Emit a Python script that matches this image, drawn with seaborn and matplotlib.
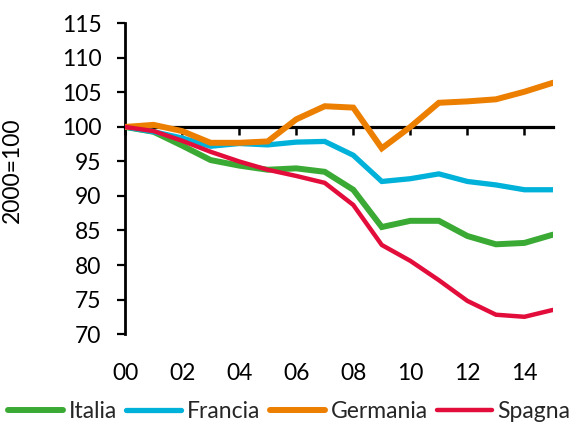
import matplotlib
matplotlib.use("Agg")
import matplotlib.pyplot as plt
import seaborn as sns
import pandas as pd

years = list(range(0, 16))
tick_years = [0, 2, 4, 6, 8, 10, 12, 14]
tick_labels = ["00", "02", "04", "06", "08", "10", "12", "14"]

italia = [100, 99.3, 97.3, 95.2, 94.4, 93.8, 94.0, 93.5, 90.9, 85.5, 86.4, 86.4, 84.2, 83.0, 83.2, 84.4]
francia = [100, 99.3, 98.4, 97.2, 97.6, 97.4, 97.8, 97.9, 95.9, 92.1, 92.5, 93.2, 92.1, 91.6, 90.9, 90.9]
germania = [100, 100.3, 99.4, 97.7, 97.7, 97.9, 101.1, 103.0, 102.8, 96.9, 100.0, 103.5, 103.7, 104.0, 105.1, 106.4]
spagna = [100, 99.4, 98.0, 96.4, 95.0, 93.8, 92.9, 91.9, 88.7, 82.9, 80.6, 77.8, 74.8, 72.8, 72.5, 73.5]

series_names = ["Italia", "Francia", "Germania", "Spagna"]
series_values = [italia, francia, germania, spagna]
colors = ["#3AAA35", "#00B1D9", "#EC7F00", "#E30D3B"]
widths = [4.3, 3.8, 4.3, 3.2]

sns.set_style("white")
plt.rcParams["font.family"] = ["Lato", "DejaVu Sans"]

fig = plt.figure(figsize=(5.85, 4.25), dpi=100)
ax = fig.add_axes([0.2137, 0.214, 0.7316, 0.731])

for name, vals, c, w in zip(series_names, series_values, colors, widths):
    df = pd.DataFrame({"anno": years, "valore": vals})
    sns.lineplot(data=df, x="anno", y="valore", ax=ax, color=c, linewidth=w,
                 label=name, solid_joinstyle="miter", zorder=3)

ax.set_xlim(0, 15)
ax.set_ylim(70, 115)
ax.set_yticks(range(70, 116, 5))
ax.set_xticks(tick_years)
ax.set_xticklabels(tick_labels)
ax.set_xlabel("")
ax.set_ylabel("2000=100", fontsize=16.5, color="black")
ax.yaxis.set_label_coords(-0.238, 0.528)

for s in ["top", "right", "bottom"]:
    ax.spines[s].set_visible(False)
ax.spines["left"].set_color("black")
ax.spines["left"].set_linewidth(2.0)

ax.tick_params(axis="y", direction="out", length=6, width=1.6, color="black",
               pad=11, labelsize=16.5, labelcolor="black", left=True)
ax.tick_params(axis="x", length=0, pad=21, labelsize=16.5, labelcolor="black")

# axis line crossing at 100
sec = ax.secondary_xaxis((100 - 70) / (115 - 70))
sec.set_xticks(tick_years)
sec.set_xticklabels([])
sec.tick_params(direction="in", length=6, width=1.8, color="black")
for s in sec.spines.values():
    s.set_linewidth(2.3)
    s.set_color("black")

ax.get_legend().remove()
handles, labels = ax.get_legend_handles_labels()
fig.legend(handles, labels, loc="center left", bbox_to_anchor=(0.0137, 0.031),
           ncol=4, frameon=False, fontsize=16.5, handlelength=2.4,
           handletextpad=0.24, columnspacing=0.42, borderpad=0, borderaxespad=0)

fig.savefig("out.png", dpi=100)
